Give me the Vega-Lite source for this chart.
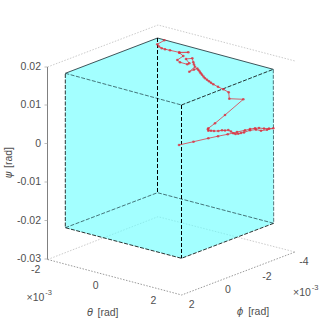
{"$schema":"https://vega.github.io/schema/vega-lite/v6.json","autosize":{"type":"fit","contains":"padding"},"width":323,"height":332,"padding":0,"background":"white","config":{"view":{"stroke":null}},
"datasets":{
"edges":[
{"seg":"topL","kind":"ceil","u":47.5,"v":67},{"seg":"topL","kind":"ceil","u":158,"v":25},{"seg":"topL","kind":"ceil","u":295,"v":61},
{"seg":"backfloor","kind":"back","u":47.7,"v":259.5},{"seg":"backfloor","kind":"back","u":158,"v":216.7},{"seg":"backfloor","kind":"back","u":295,"v":252},
{"seg":"frontfloor","kind":"front","u":47.7,"v":259.5},{"seg":"frontfloor","kind":"front","u":181.7,"v":295},{"seg":"frontfloor","kind":"front","u":295,"v":252}
],
"topbox":[{"u":65.3,"v":73.3},{"u":157.5,"v":38},{"u":273.3,"v":69.3}],
"box":[
{"seg":"a","u":273.3,"v":69.3},{"seg":"a","u":273.7,"v":223.3},
{"seg":"b","u":65.3,"v":73.3},{"seg":"b","u":181.5,"v":105},
{"seg":"e","u":65.3,"v":227.7},{"seg":"e","u":157.5,"v":192.7},{"seg":"e","u":273.7,"v":223.3}
],
"boxDark":[
{"seg":"f","u":273.7,"v":223.3},{"seg":"f","u":181.5,"v":258.3},{"seg":"f","u":65.3,"v":227.7},{"seg":"f","u":65.3,"v":73.3},
{"seg":"g","u":181.5,"v":105},{"seg":"g","u":273.3,"v":69.3}
],
"verts":[{"seg":"c","u":181.5,"v":105},{"seg":"c","u":181.5,"v":258.3},{"seg":"d","u":157.5,"v":38},{"seg":"d","u":157.5,"v":192.7}],
"fill":[{"u":65.3,"top":73.3,"bot":227.7},{"u":157.5,"top":38,"bot":252},{"u":181.5,"top":44.5,"bot":258.3},{"u":273.5,"top":69.3,"bot":223.3}],
"ticks":[{"u":44.5,"u2":47.5,"v":67},{"u":44.5,"u2":47.5,"v":105},{"u":44.5,"u2":47.5,"v":143.5},{"u":44.5,"u2":47.5,"v":182},{"u":44.5,"u2":47.5,"v":220.5},{"u":44.5,"u2":47.5,"v":259}],
"path":[
{"i":0,"u":179,"v":145},{"i":1,"u":193.5,"v":141.7},{"i":2,"u":208.3,"v":138.3},{"i":3,"u":218,"v":136.2},{"i":4,"u":227.7,"v":134.3},{"i":5,"u":237,"v":132},{"i":6,"u":245,"v":130.3},{"i":7,"u":250,"v":129},{"i":8,"u":255,"v":128.3},{"i":9,"u":259,"v":128},{"i":10,"u":264,"v":128.6},{"i":11,"u":269,"v":128.6},{"i":12,"u":273.3,"v":128.3},{"i":13,"u":267,"v":129.8},{"i":14,"u":261,"v":130.7},{"i":15,"u":256,"v":129.6},{"i":16,"u":250,"v":130.3},{"i":17,"u":244,"v":132.4},{"i":18,"u":241,"v":133},{"i":19,"u":238.3,"v":133.7},{"i":20,"u":235.5,"v":134},{"i":21,"u":233.3,"v":133.3},{"i":22,"u":231,"v":131.5},{"i":23,"u":228.3,"v":130},{"i":24,"u":225,"v":130.5},{"i":25,"u":222,"v":130.3},{"i":26,"u":218.3,"v":131},{"i":27,"u":214,"v":131},{"i":28,"u":211,"v":130.7},{"i":29,"u":208.3,"v":130.7},{"i":30,"u":208,"v":129.3},{"i":31,"u":208.3,"v":128.3},{"i":32,"u":215,"v":123.3},{"i":33,"u":225,"v":115},{"i":34,"u":243.3,"v":99.3},{"i":35,"u":229.3,"v":98.7},{"i":36,"u":228.7,"v":92.3},{"i":37,"u":223.3,"v":89.3},{"i":38,"u":218,"v":86.8},{"i":39,"u":213.3,"v":84.3},{"i":40,"u":211,"v":82.8},{"i":41,"u":209,"v":81.3},{"i":42,"u":207,"v":79.8},{"i":43,"u":205,"v":78.3},{"i":44,"u":203.5,"v":76.6},{"i":45,"u":202,"v":74.8},{"i":46,"u":200.8,"v":73.3},{"i":47,"u":199.7,"v":71.6},{"i":48,"u":198.4,"v":70},{"i":49,"u":197.3,"v":68.5},{"i":50,"u":194,"v":69.6},{"i":51,"u":189.3,"v":71.7},{"i":52,"u":195,"v":66.7},{"i":53,"u":194,"v":64.5},{"i":54,"u":193.3,"v":62.3},{"i":55,"u":192.3,"v":58.3},{"i":56,"u":186,"v":59},{"i":57,"u":189.3,"v":63.3},{"i":58,"u":187.3,"v":64.3},{"i":59,"u":180,"v":62.3},{"i":60,"u":177.3,"v":60},{"i":61,"u":183.3,"v":56},{"i":62,"u":179.3,"v":52.7},{"i":63,"u":188.3,"v":52.3},{"i":64,"u":179.3,"v":52.4},{"i":65,"u":170,"v":50.3},{"i":66,"u":165,"v":49.2},{"i":67,"u":161.7,"v":48.3},{"i":68,"u":159,"v":46.5},{"i":69,"u":157.3,"v":44.3},{"i":70,"u":164.3,"v":40.3}],
"labelsR":[{"t":"0.02","u":41,"v":67},{"t":"0.01","u":41,"v":105},{"t":"0","u":41,"v":143.5},{"t":"-0.01","u":41,"v":182},{"t":"-0.02","u":41,"v":220.5},{"t":"-0.03","u":41,"v":258.5}],
"labelsC":[{"t":"-2","u":35.7,"v":270},{"t":"0","u":95.7,"v":285.7},{"t":"2","u":153.5,"v":301},{"t":"2","u":191.7,"v":305},{"t":"0","u":228,"v":290},{"t":"-2","u":267,"v":276.5},{"t":"-4","u":304,"v":261.5},{"t":"×10","u":35.5,"v":297.5},{"t":"×10","u":302,"v":292.5},{"t":"[rad]","u":108,"v":313},{"t":"[rad]","u":258.7,"v":311.5}],
"sup":[{"t":"-3","u":48.5,"v":293},{"t":"-3","u":315,"v":288}],
"greek":[{"t":"θ","u":90,"v":313},{"t":"ϕ","u":240,"v":311.5}],
"psiG":[{"t":"ψ","u":9,"v":175}],
"psiT":[{"t":"[rad]","u":9,"v":157.5}]
},
"encoding":{"x":{"field":"u","type":"quantitative","scale":{"domain":[0,323]},"axis":null},"y":{"field":"v","type":"quantitative","scale":{"domain":[332,0]},"axis":null}},
"layer":[
{"data":{"name":"edges"},"transform":[{"filter":"datum.kind=='ceil'||datum.kind=='back'"}],"mark":{"type":"line","color":"#b4b4b4","strokeWidth":0.7,"strokeDash":[1.5,1.5]},"encoding":{"detail":{"field":"seg"},"order":{"field":"u","type":"quantitative"}}},
{"data":{"name":"edges"},"transform":[{"filter":"datum.kind=='front'"}],"mark":{"type":"line","color":"#808080","strokeWidth":0.8,"strokeDash":[1.5,1.5]},"encoding":{"detail":{"field":"seg"},"order":{"field":"u","type":"quantitative"}}},
{"data":{"name":"fill"},"mark":{"type":"area","fill":"#66ffff","opacity":0.6},"encoding":{"y":{"field":"top","type":"quantitative","scale":{"domain":[332,0]},"axis":null},"y2":{"field":"bot"}}},
{"data":{"name":"box"},"transform":[{"window":[{"op":"row_number","as":"rowN"}]}],"mark":{"type":"line","color":"#1a3a40","strokeWidth":0.7,"strokeDash":[4,1.5]},"encoding":{"detail":{"field":"seg"},"order":{"field":"rowN","type":"quantitative"}}},
{"data":{"name":"boxDark"},"transform":[{"window":[{"op":"row_number","as":"rowN"}]}],"mark":{"type":"line","color":"#000000","strokeWidth":0.8,"strokeDash":[4,1.5]},"encoding":{"detail":{"field":"seg"},"order":{"field":"rowN","type":"quantitative"}}},
{"data":{"name":"topbox"},"mark":{"type":"line","color":"#1a2a30","strokeWidth":0.8},"encoding":{"order":{"field":"u","type":"quantitative"}}},
{"data":{"name":"verts"},"mark":{"type":"line","color":"#000000","strokeWidth":1,"strokeDash":[4,2]},"encoding":{"detail":{"field":"seg"},"order":{"field":"v","type":"quantitative"}}},
{"data":{"values":[{"u":47.5,"a":67,"b":259.5}]},"mark":{"type":"rule","color":"#808080","strokeWidth":1},"encoding":{"y":{"field":"a","type":"quantitative","scale":{"domain":[332,0]},"axis":null},"y2":{"field":"b"}}},
{"data":{"name":"ticks"},"mark":{"type":"rule","color":"#a0a0a0","strokeWidth":0.7},"encoding":{"x2":{"field":"u2"}}},
{"data":{"name":"path"},"mark":{"type":"line","color":"#d8505c","strokeWidth":0.9},"encoding":{"order":{"field":"i","type":"quantitative"}}},
{"data":{"name":"path"},"mark":{"type":"point","filled":true,"color":"#dc2a38","size":7,"opacity":0.75}},
{"data":{"name":"labelsR"},"mark":{"type":"text","align":"right","baseline":"middle","font":"Liberation Sans","fontSize":10.5,"color":"#505050"},"encoding":{"text":{"field":"t"}}},
{"data":{"name":"labelsC"},"mark":{"type":"text","align":"center","baseline":"middle","font":"Liberation Sans","fontSize":10.5,"color":"#505050"},"encoding":{"text":{"field":"t"}}},
{"data":{"name":"sup"},"mark":{"type":"text","align":"center","baseline":"middle","font":"Liberation Sans","fontSize":7.5,"color":"#505050"},"encoding":{"text":{"field":"t"}}},
{"data":{"name":"greek"},"mark":{"type":"text","align":"center","baseline":"middle","font":"DejaVu Sans","fontStyle":"italic","fontSize":10,"color":"#505050"},"encoding":{"text":{"field":"t"}}},
{"data":{"name":"psiG"},"mark":{"type":"text","align":"center","baseline":"middle","angle":270,"font":"DejaVu Sans","fontStyle":"italic","fontSize":10,"color":"#505050"},"encoding":{"text":{"field":"t"}}},
{"data":{"name":"psiT"},"mark":{"type":"text","align":"center","baseline":"middle","angle":270,"font":"Liberation Sans","fontSize":10.5,"color":"#505050"},"encoding":{"text":{"field":"t"}}}
]}
